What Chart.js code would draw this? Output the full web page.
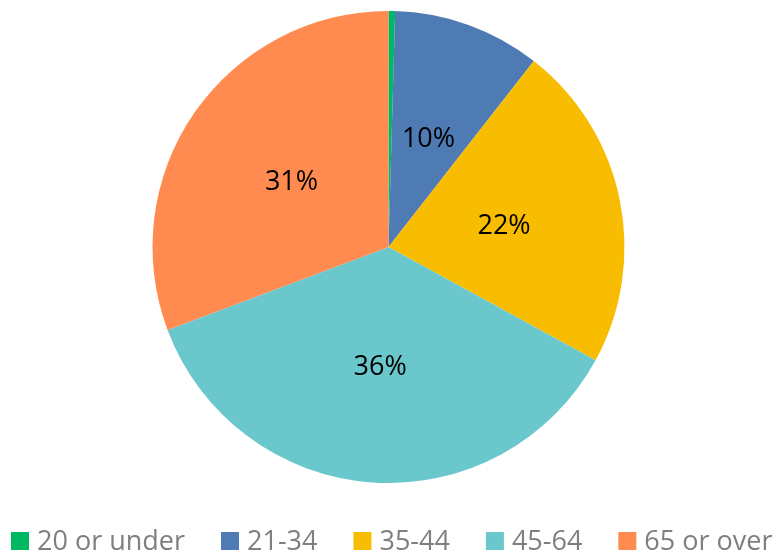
<!DOCTYPE html>
<html>
<head>
<meta charset="utf-8">
<script src="https://cdn.jsdelivr.net/npm/chart.js@4/dist/chart.umd.min.js"></script>
<style>
  html, body { margin: 0; padding: 0; background: #ffffff; }
  #wrap { position: relative; width: 781px; height: 552px; }
</style>
</head>
<body>
<div id="wrap"><canvas id="c" width="781" height="552"></canvas></div>
<script>
const categories = ['20 or under', '21-34', '35-44', '45-64', '65 or over'];
const shares = [0.45, 10.1, 22.4, 36.3, 30.7];
const sliceColors = ['#00B862', '#4E7BB4', '#F8BC00', '#6AC8CC', '#FF8B50'];

const FONT = '"Open Sans", "DejaVu Sans", sans-serif';

const sliceLabels = {
  id: 'sliceLabels',
  afterDatasetsDraw(chart) {
    const ctx = chart.ctx;
    const ds = chart.data.datasets[0];
    const total = ds.data.reduce((a, b) => a + b, 0);
    const meta = chart.getDatasetMeta(0);
    ctx.save();
    ctx.font = '27px ' + FONT;
    ctx.fillStyle = '#000000';
    ctx.textAlign = 'center';
    ctx.textBaseline = 'middle';
    meta.data.forEach((arc, i) => {
      const pct = Math.round(ds.data[i] / total * 100);
      if (pct < 1) return;
      const p = arc.tooltipPosition();
      ctx.fillText(pct + '%', p.x, p.y + 3);
    });
    ctx.restore();
  }
};

const bottomLegend = {
  id: 'bottomLegend',
  afterDraw(chart) {
    const ctx = chart.ctx;
    const labels = chart.data.labels;
    const colors = chart.data.datasets[0].backgroundColor;
    ctx.save();
    ctx.font = '27px ' + FONT;
    ctx.textBaseline = 'alphabetic';
    ctx.textAlign = 'left';
    let x = 11;
    const box = 18;
    const boxTop = 532;
    const baseline = 549.5;
    labels.forEach((lab, i) => {
      ctx.fillStyle = colors[i];
      ctx.fillRect(x, boxTop, box, box);
      x += box + 8;
      ctx.fillStyle = '#7F7F7F';
      ctx.fillText(lab, x, baseline);
      x += ctx.measureText(lab).width + 36;
    });
    ctx.restore();
  }
};

new Chart(document.getElementById('c'), {
  type: 'pie',
  data: {
    labels: categories,
    datasets: [{
      data: shares,
      backgroundColor: sliceColors,
      borderWidth: 0,
      hoverOffset: 0
    }]
  },
  options: {
    responsive: false,
    animation: false,
    events: [],
    layout: { padding: { top: 11, bottom: 69, left: 0, right: 4 } },
    plugins: {
      legend: { display: false },
      tooltip: { enabled: false },
      title: { display: false }
    }
  },
  plugins: [sliceLabels, bottomLegend]
});
</script>
</body>
</html>
